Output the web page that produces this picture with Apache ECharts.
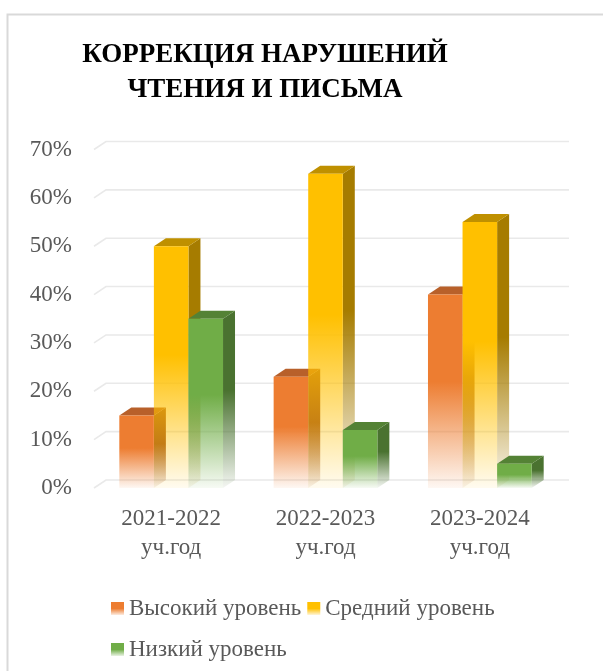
<!DOCTYPE html>
<html><head><meta charset="utf-8">
<script src="https://cdn.jsdelivr.net/npm/echarts@6/dist/echarts.min.js"></script>
<style>html,body{margin:0;padding:0;background:#fff}#c{width:603px;height:671px}</style>
</head><body><div id="c"></div>
<script>
const categories = ['2021-2022\nуч.год', '2022-2023\nуч.год', '2023-2024\nуч.год'];
const seriesNames = ['Высокий уровень', 'Средний уровень', 'Низкий уровень'];
const highValues = [0.15, 0.23, 0.40];
const midValues = [0.50, 0.65, 0.55];
const lowValues = [0.35, 0.12, 0.05];
const yTicks = [0, 0.1, 0.2, 0.3, 0.4, 0.5, 0.6, 0.7];

const FONT = 'Liberation Serif';
const palette = [
  {front: [237,125,49], top: '#B8602A', side: [160,84,34]},
  {front: [255,192,0], top: '#BF9000', side: [166,124,0]},
  {front: [112,173,71], top: '#548235', side: [74,114,48]}
];
const DX = 12, DY = 8;
function rgba(c, a){ return 'rgba(' + c[0] + ',' + c[1] + ',' + c[2] + ',' + a + ')'; }
function fade(c){
  return new echarts.graphic.LinearGradient(0, 0, 0, 1, [
    {offset: 0, color: rgba(c, 1)},
    {offset: 0.45, color: rgba(c, 1)},
    {offset: 1, color: rgba(c, 0.06)}
  ]);
}
function legendFade(c){
  return new echarts.graphic.LinearGradient(0, 0, 0, 1, [
    {offset: 0, color: rgba(c, 1)},
    {offset: 0.5, color: rgba(c, 1)},
    {offset: 1, color: rgba(c, 0.15)}
  ]);
}
function barRenderer(sIdx){
  return function(params, api){
    const ci = api.value(0), v = api.value(1);
    const base = api.coord([ci, 0]);
    const top = api.coord([ci, v]);
    const band = api.size([1, 0])[0];
    const bw = band * 0.224;
    const x0 = base[0] + (sIdx - 1.5) * bw, x1 = x0 + bw;
    const yb = base[1], yt = top[1];
    const p = palette[sIdx];
    return {
      type: 'group',
      children: [
        {type: 'polygon', shape: {points: [[x1, yt], [x1 + DX, yt - DY], [x1 + DX, yb - DY], [x1, yb]]},
          style: {fill: fade(p.side)}},
        {type: 'polygon', shape: {points: [[x0, yt], [x0 + DX, yt - DY], [x1 + DX, yt - DY], [x1, yt]]},
          style: {fill: p.top}},
        {type: 'rect', shape: {x: x0, y: yt, width: bw, height: yb - yt},
          style: {fill: fade(p.front)}}
      ]
    };
  };
}
function toData(arr){ return arr.map((v, i) => [i, v]); }
const valueSets = [highValues, midValues, lowValues];

const series = [{
  type: 'custom', name: 'grid', silent: true, z: 1,
  data: yTicks.map(v => [0, v]),
  encode: {x: 0, y: 1},
  renderItem: function(params, api){
    const y = api.coord([0, api.value(1)])[1];
    const cs = params.coordSys;
    return {type: 'polyline', shape: {points: [[cs.x, y], [cs.x + DX, y - DY], [cs.x + cs.width + DX, y - DY]]},
      style: {stroke: '#E9E9E9', lineWidth: 1.6, fill: null}};
  }
}];
valueSets.forEach((vals, i) => {
  series.push({
    type: 'custom', name: seriesNames[i], z: 2 + i,
    data: toData(vals), encode: {x: 0, y: 1},
    itemStyle: {color: legendFade(palette[i].front)},
    renderItem: barRenderer(i)
  });
});

const chart = echarts.init(document.getElementById('c'), null, {renderer: 'canvas'});
chart.setOption({
  animation: false,
  backgroundColor: '#fff',
  title: {
    text: 'КОРРЕКЦИЯ НАРУШЕНИЙ\nЧТЕНИЯ И ПИСЬМА',
    left: 260, top: 33, textAlign: 'center',
    textStyle: {fontFamily: FONT, fontWeight: 'bold', fontSize: 27, lineHeight: 35, color: '#000'}
  },
  graphic: [{type: 'rect', left: 5, top: 12, shape: {x: 0, y: 0, width: 640, height: 700},
    style: {fill: null, stroke: '#D9D9D9', lineWidth: 2}, silent: true}],
  grid: {left: 94, right: 46, top: 149.5, bottom: 183},
  xAxis: {
    type: 'category', data: categories,
    axisLine: {show: false}, axisTick: {show: false},
    axisLabel: {fontFamily: FONT, fontSize: 23, lineHeight: 29, color: '#595959', margin: 16}
  },
  yAxis: {
    type: 'value', min: 0, max: 0.7, interval: 0.1,
    splitLine: {show: false}, axisLine: {show: false}, axisTick: {show: false},
    axisLabel: {fontFamily: FONT, fontSize: 23, color: '#595959', margin: 22,
      formatter: v => Math.round(v * 100) + '%'}
  },
  legend: {
    data: seriesNames,
    left: 106, top: 586, width: 420,
    itemWidth: 13, itemHeight: 13, itemGap: 6, icon: 'rect',
    textStyle: {fontFamily: FONT, fontSize: 23, lineHeight: 35, color: '#595959'}
  },
  series: series
});
</script></body></html>
